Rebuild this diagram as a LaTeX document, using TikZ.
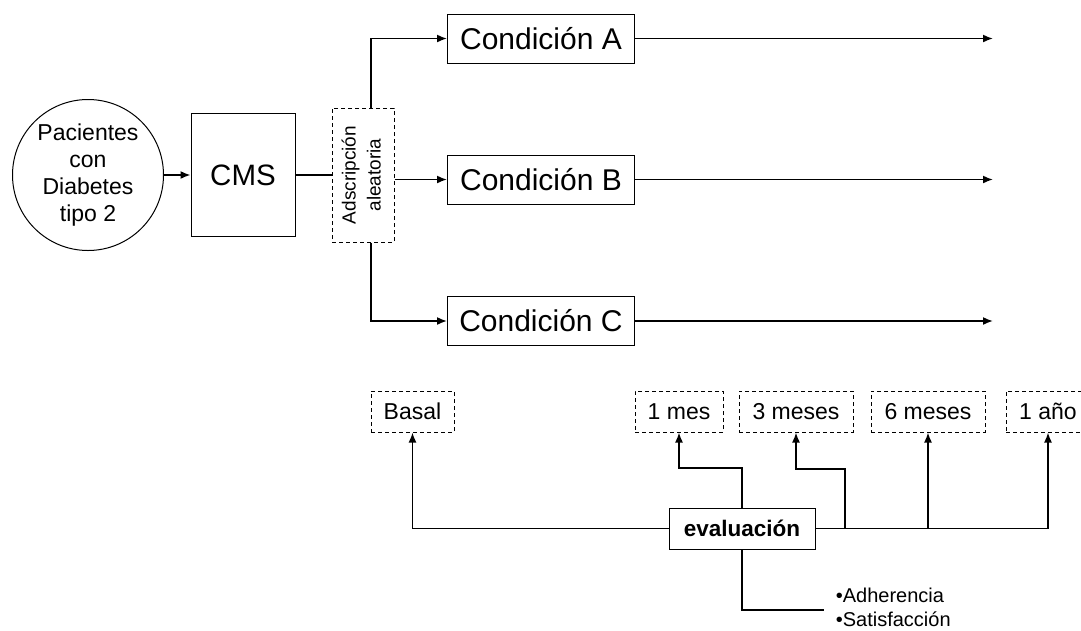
\documentclass[tikz,border=0pt]{standalone}
\usepackage{fontspec}
\setmainfont{Liberation Sans}
\usepackage{graphicx}
\usepackage{tikz}
\usetikzlibrary{arrows.meta}

\begin{document}
\begin{tikzpicture}[x=1pt,y=-1pt,>={Latex[length=10pt,width=8pt]},line width=1.6pt,node distance=120pt]
  \tikzstyle{caja}=[draw=black,line width=1pt,inner sep=0pt]
  \tikzstyle{cond}=[caja,minimum width=187pt,minimum height=49pt,font=\fontsize{30}{33}\selectfont]
  \tikzstyle{tiempo}=[caja,dash pattern=on 4pt off 3pt,minimum height=41pt,font=\fontsize{23}{26}\selectfont]

  \useasboundingbox (0,0) rectangle (1081,630);

  \node[caja,circle,minimum size=151pt,align=center,
        font=\fontsize{23}{27}\selectfont] (pac) at (88,175)
        {Pacientes\\con\\Diabetes\\tipo 2};
  \node[caja,minimum width=104pt,minimum height=123pt,
        font=\fontsize{29.5}{33}\selectfont] (cms) [right of=pac,node distance=155pt] {CMS};
  \node[caja,dash pattern=on 4pt off 3pt,minimum width=62pt,minimum height=134pt,
        font=\fontsize{19}{25}\selectfont] (ads) [right of=cms]
        {\rotatebox{90}{\begin{tabular}{@{}c@{}}Adscripción\\aleatoria\end{tabular}}};

  \node[cond] (condB) at (541,179.5) {Condición B};
  \node[cond] (condA) [above of=condB,node distance=141pt] {Condición A};
  \node[cond] (condC) [below of=condB,node distance=141.5pt] {Condición C};
  \coordinate (fin) at (993,0);

  \node[tiempo,minimum width=83pt] (basal) at (412.5,411.5) {Basal};
  \node[tiempo,minimum width=88pt] (mes1) [right of=basal,node distance=266.5pt] {1 mes};
  \node[tiempo,minimum width=114pt] (mes3) [right of=mes1,node distance=117pt] {3 meses};
  \node[tiempo,minimum width=114pt] (mes6) [right of=mes3,node distance=132pt] {6 meses};
  \node[tiempo,minimum width=84pt] (ano1) [right of=mes6,node distance=120pt] {1 año};

  \node[caja,minimum width=146pt,minimum height=41pt,
        font=\fontsize{22.5}{26}\selectfont\bfseries] (eval) at (742,528.5) {evaluación};
  \node[inner xsep=11pt,inner ysep=0pt,anchor=west,
        font=\fontsize{20}{24}\selectfont] (lista) at (824,610)
        {\begin{tabular}{@{}l@{}}•Adherencia\\•Satisfacción\end{tabular}};
  \coordinate (k3) at (845,528.5);

  \draw[->] (pac) -- (cms);
  \draw (cms) -- (ads);
  \draw[->] ([xshift=8pt]ads.north) |- (condA);
  \draw[->] (ads.east |- condB) -- (condB);
  \draw[->] ([xshift=8pt]ads.south) |- (condC);
  \foreach \c in {A,B,C}
    \draw[->] (cond\c.east) -- (cond\c.east -| fin);

  \draw[->] (eval.west) -| (basal.south);
  \draw[->] (eval.north) -- ++(0,-39.5) -| (mes1.south);
  \draw[->] (k3) -- ++(0,-59.5) -| (mes3.south);
  \draw[->] (eval.east -| mes6) -- (mes6.south);
  \draw[->] (eval.east) -| (ano1.south);
  \draw (eval.south) |- (lista.west);
\end{tikzpicture}
\end{document}
